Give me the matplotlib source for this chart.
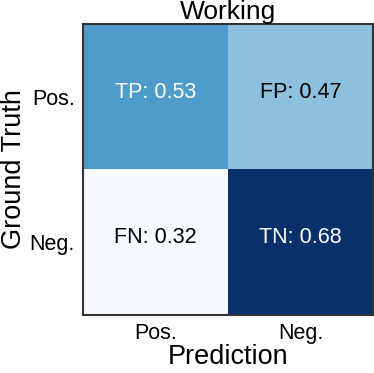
import matplotlib
matplotlib.use("Agg")
import matplotlib.pyplot as plt
import numpy as np

plt.rcParams['font.family'] = ['Liberation Sans', 'DejaVu Sans']

title = "Working"
x_labels = ["Pos.", "Neg."]
y_labels = ["Pos.", "Neg."]
cell_names = [["TP", "FP"], ["FN", "TN"]]
values = np.array([[0.53, 0.47], [0.32, 0.68]])

fig = plt.figure(figsize=(3.74, 3.73), dpi=100)
ax = fig.add_axes([83/374, 1-315/373, 290/374, 291/373])
ax.imshow(values, cmap="Blues", vmin=values.min(), vmax=values.max(), aspect="auto")
for i in range(2):
    for j in range(2):
        v = values[i, j]
        norm = (v - values.min()) / (values.max() - values.min())
        color = "white" if norm > 0.5 else "black"
        ax.text(j, i - 0.03, f"{cell_names[i][j]}: {v:.2f}", ha="center", va="center",
                fontsize=15.5, color=color)
ax.set_xticks(range(2))
ax.set_xticklabels(x_labels, fontsize=15.5)
ax.set_yticks(range(2))
ax.set_yticklabels(y_labels, fontsize=15.5)
ax.tick_params(length=0, pad=6)
ax.set_xlabel("Prediction", fontsize=19.5, labelpad=0)
ax.set_ylabel("Ground Truth", fontsize=19.5, labelpad=2)
ax.set_title(title, fontsize=19, pad=0)
for s in ax.spines.values():
    s.set_color("#333333")
    s.set_linewidth(1.5)
fig.savefig("out.png", dpi=100)
